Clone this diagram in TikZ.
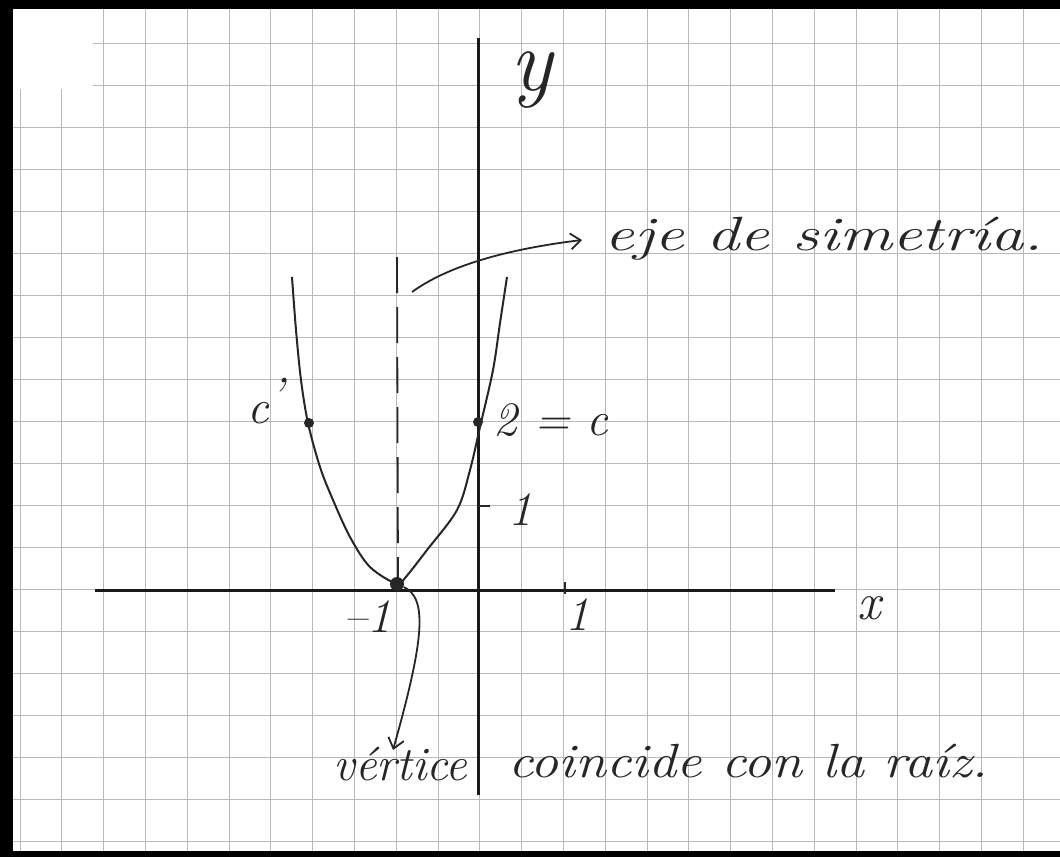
\documentclass[tikz,border=0pt]{standalone}
\usepackage{graphicx}
\usetikzlibrary{arrows.meta}
\newsavebox\hwbox
\newcommand\hwfit[2]{\sbox\hwbox{#2}\pgfmathsetmacro\hwfac{#1/\the\wd\hwbox}\scalebox{\hwfac}[1]{\usebox\hwbox}}
\newcommand\hw{\fontsize{24}{24}\selectfont\itshape}
\begin{document}
\begin{tikzpicture}[x=0.5pt,y=-0.5pt,
  gridl/.style={gray!55, line width=0.5pt},
  axisl/.style={black!90, line width=1.5pt},
  curvel/.style={black!85, line width=1pt},
  hand/.style={inner sep=0pt, font=\hw, text=black!85},
  dot/.style={circle, fill=black!85, inner sep=0pt, minimum size=#1},
  arrowl/.style={black!85, line width=0.9pt, -{Straight Barb[length=5pt,width=8pt]}}]
\useasboundingbox (0,0) rectangle (1060,857);
\fill[white] (0,0) rectangle (1060,857);
% grid paper
\foreach \k in {0,...,24} \draw[gridl] ({20+41.8*\k},9) -- ({20+41.8*\k},851);
\foreach \j in {0,...,19} \draw[gridl] (13,{43+42*\j}) -- (1060,{43+42*\j});
\fill[white] (13,9) rectangle (93,89);
% scan border
\fill[black] (0,0) rectangle (1060,9);
\fill[black] (0,0) rectangle (13,857);
\fill[black] (0,851) rectangle (1060,857);
% axes
\coordinate (xs) at (95,590);
\coordinate (xe) at (835,590);
\coordinate (ys) at (478,38);
\coordinate (ye) at (478,795);
\draw[axisl] (xs) -- (xe);
\draw[axisl] (ys) -- (ye);
\draw[black!85, line width=0.9pt] (565,582) -- (565,594);
\draw[black!85, line width=0.9pt] (478,506) -- (490,506);
% axis labels
\node[font=\fontsize{44}{44}\selectfont\itshape, text=black!85, inner sep=0pt] (ylab) at (531,80) {y};
\node[font=\fontsize{26}{26}\selectfont\itshape, text=black!85, inner sep=0pt] (xlab) at (869,608) {x};
\node[hand] (m1) at (367,617) {\textendash1};
\node[hand] (p1) at (577,615) {1};
\node[hand] (y1) at (520,510) {1};
% symmetry axis
\coordinate (st) at (397,257);
\coordinate (sb) at (398,580);
\draw[black!85, line width=0.9pt, dash pattern=on 18pt off 7pt] (st) -- (sb);
% parabola
\draw[curvel] plot[smooth, tension=0.55] coordinates {(292,277) (296,330) (301,380) (308,423) (320,467) (333,500) (350,537) (370,567) (397,584) (405,578) (427,550) (457,510) (470,470) (480,427) (493,370) (500,323) (507,277)};
% points
\node[dot=7pt] (vtx) at (397,584) {};
\node[dot=5pt] (cdot) at (309,423) {};
\node[dot=5pt] (c0) at (478,422) {};
\node[hand, anchor=south east] (cp) at (284,424) {c\raisebox{0.25em}{'}};
\node[hand, anchor=west] (c2) at (493,420) {2 = c};
% annotations
\node[hand, anchor=base west] (eje) at (604,250) {\hwfit{219.5pt}{eje de simetría.}};
\node[hand, anchor=base west] (vert) at (333,780) {\hwfit{67pt}{vértice}};
\node[hand, anchor=base west] (coin) at (508,777) {\hwfit{240pt}{coincide con la raíz.}};
\coordinate (a1) at (412,292);
\coordinate (a2) at (582,240);
\draw[arrowl] (a1) .. controls (445,268) and (500,250) .. (a2);
\coordinate (b2) at (393,750);
\draw[arrowl] (vtx) .. controls (428,598) and (424,640) .. (b2);
\end{tikzpicture}
\end{document}
